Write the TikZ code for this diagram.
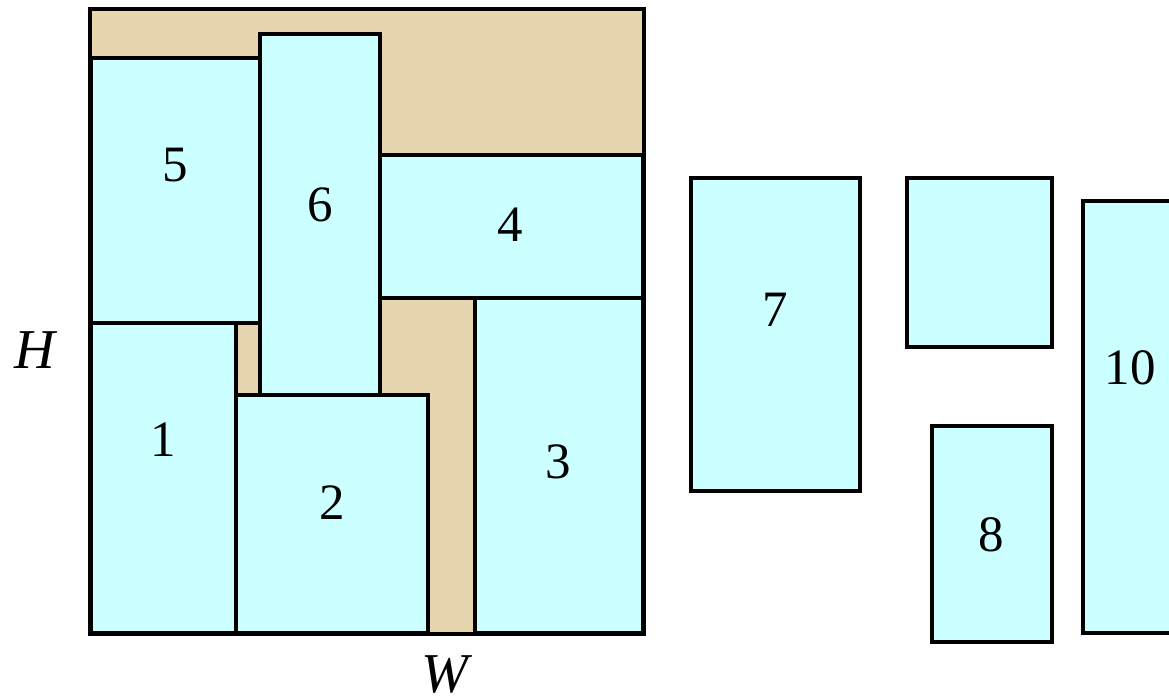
\documentclass[tikz,border=0pt]{standalone}
\usepackage{fontspec}
\setmainfont{Liberation Serif}
\definecolor{sand}{RGB}{231,213,176}
\definecolor{aqua}{RGB}{204,255,255}
\tikzset{
  piece/.style={draw, line width=1.05pt, fill=aqua, rectangle, inner sep=0pt},
  num/.style={font=\fontsize{14.5}{17}\selectfont},
}
\begin{document}
\begin{tikzpicture}[x=0.01cm,y=-0.01cm]
\useasboundingbox (0,0) rectangle (1169,699);
\clip (0,0) rectangle (1169,699);

\node(bin)[fill=sand, rectangle, inner sep=0pt, minimum width=5.52cm, minimum height=6.23cm] at (367,321.5) {};

\node(b5)[piece, minimum width=1.69cm, minimum height=2.65cm] at (175.5,190.5) {};
\node(b6)[piece, minimum width=1.20cm, minimum height=3.61cm] at (320,214.5) {};
\node(b4)[piece, minimum width=2.63cm, minimum height=1.43cm] at (511.5,226.5) {};
\node(b1)[piece, minimum width=1.45cm, minimum height=3.10cm] at (163.5,478) {};
\node(b2)[piece, minimum width=1.92cm, minimum height=2.38cm] at (332,514) {};
\node(b3)[piece, minimum width=1.68cm, minimum height=3.35cm] at (559,465.5) {};

\node(b7)[piece, minimum width=1.69cm, minimum height=3.13cm] at (775.5,334.5) {};
\node(b9)[piece, minimum width=1.45cm, minimum height=1.69cm] at (979.5,262.5) {};
\node(b8)[piece, minimum width=1.20cm, minimum height=2.16cm] at (992,534) {};
\node(b10)[piece, minimum width=0.94cm, minimum height=4.32cm] at (1130,417) {};

\draw[line width=1.3pt] (bin.north west) rectangle (bin.south east);

\node(l5)[num] at (175,165) {5};
\node(l6)[num] at (320,205) {6};
\node(l4)[num] at (510,225) {4};
\node(l1)[num] at (163,440) {1};
\node(l2)[num] at (332,503) {2};
\node(l3)[num] at (558,462) {3};
\node(l7)[num] at (775,310) {7};
\node(l8)[num] at (991,535) {8};
\node(l10)[num] at (1130,368) {10};

\node(H)[font=\fontsize{16}{19}\selectfont\itshape] at (35,350) {H};
\node(W)[font=\fontsize{16}{19}\selectfont\itshape] at (445,674) {W};
\end{tikzpicture}
\end{document}
